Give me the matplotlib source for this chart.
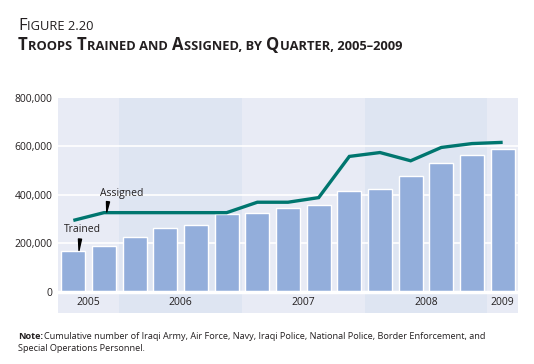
import matplotlib
matplotlib.use("Agg")
import matplotlib.pyplot as plt
import numpy as np

# quarterly data, Q3 2005 .. Q1 2009
quarters = ["2005Q3", "2005Q4",
            "2006Q1", "2006Q2", "2006Q3", "2006Q4",
            "2007Q1", "2007Q2", "2007Q3", "2007Q4",
            "2008Q1", "2008Q2", "2008Q3", "2008Q4",
            "2009Q1"]
trained = [170000, 189000, 226000, 262000, 275000, 321000, 327000, 345000,
           359000, 416000, 425000, 479000, 532000, 566000, 588000]
assigned = [295000, 327000, 327000, 327000, 327000, 327000, 370000, 370000,
            389000, 559000, 575000, 541000, 596000, 612000, 617000]
years = ["2005", "2006", "2007", "2008", "2009"]
yticks = [0, 200000, 400000, 600000, 800000]

FONT = "Open Sans"
TXT = "#231f20"
plt.rcParams['font.family'] = [FONT, 'DejaVu Sans']

fig = plt.figure(figsize=(5.34, 3.64), dpi=100)
fig.patch.set_facecolor("white")

ax = fig.add_axes([58 / 534, (364 - 313) / 364, 460 / 534, 215 / 364])
ax.set_facecolor("#e8ebf5")

x = np.arange(len(quarters))
# year of each quarter -> shaded bands
qyear = [q[:4] for q in quarters]
for i, yr in enumerate(years):
    idx = [k for k, q in enumerate(qyear) if q == yr]
    lo, hi = idx[0] - 0.5, idx[-1] + 0.5
    if i % 2 == 1:
        ax.axvspan(lo, hi, color="#dee5f2", lw=0, zorder=0)
    ax.text((lo + hi) / 2, -43000, yr, ha="center", va="center",
            fontsize=7.5, color=TXT)

for t in yticks[1:-1]:
    ax.axhline(t, color="white", lw=1.2, zorder=1)
ax.axhline(0, color="white", lw=2.5, zorder=3)

ax.bar(x, trained, width=0.78, color="#93aedb", edgecolor="white",
       linewidth=1.0, zorder=2)
ax.plot(x, assigned, color="#00766f", lw=2.4, zorder=4,
        solid_capstyle="butt", solid_joinstyle="miter")

# labels with small wedge pointers
wedge = dict(arrowstyle="wedge,tail_width=0.22", color="black",
             shrinkA=0, shrinkB=0)
ax.text(x[1] + 0.57, 396000, "Assigned", ha="center", va="baseline",
        fontsize=7.5, color=TXT, zorder=5)
ax.annotate("", xy=(x[1] + 0.09, assigned[1] + 3000),
            xytext=(x[1] + 0.13, 372000), arrowprops=wedge, zorder=5)
ax.text(x[0] + 0.30, 247000, "Trained", ha="center", va="baseline",
        fontsize=7.5, color=TXT, zorder=5)
ax.annotate("", xy=(x[0] + 0.185, trained[0] + 1000),
            xytext=(x[0] + 0.217, 218000), arrowprops=wedge, zorder=5)

ax.set_xlim(-0.5, len(quarters) - 0.5)
ax.set_ylim(-87000, 800000)
ax.set_xticks([])
ax.set_yticks(yticks)
ax.set_yticklabels(["{:,}".format(v) for v in yticks], fontsize=7.5, color=TXT)
ax.tick_params(axis="y", length=0, pad=4)
for s in ax.spines.values():
    s.set_visible(False)


def small_caps(fig, x0, y0, text, big, small, weight="normal", gap=0.6):
    """ fake small caps: place runs one after another (pixel coords) """
    r = fig.canvas.get_renderer()
    runs = []
    for ch in text:
        kind = "b" if ch.isupper() else "s"
        if runs and runs[-1][0] == kind:
            runs[-1][1] += ch.upper()
        else:
            runs.append([kind, ch.upper()])
    xp = x0
    for kind, s in runs:
        t = fig.text(xp / 534, 1 - y0 / 364, s, fontsize=big if kind == "b" else small,
                     fontweight=weight, color=TXT, ha="left", va="baseline")
        bb = t.get_window_extent(renderer=r)
        xp += bb.width + gap


small_caps(fig, 18, 29.5, "Figure 2.20", 12.0, 9.3)
small_caps(fig, 18, 50, "Troops Trained and Assigned, by Quarter, 2005\u20132009",
           12.0, 9.3, weight="bold")

fig.text(18 / 534, 1 - 339 / 364, "Note:", fontsize=6.6, fontweight="bold",
         color=TXT, ha="left", va="baseline")
fig.text(44 / 534, 1 - 339 / 364,
         "Cumulative number of Iraqi Army, Air Force, Navy, Iraqi Police, National Police, Border Enforcement, and",
         fontsize=6.6, color=TXT, ha="left", va="baseline")
fig.text(18 / 534, 1 - 351 / 364, "Special Operations Personnel.", fontsize=6.6,
         color=TXT, ha="left", va="baseline")

fig.savefig("out.png", dpi=100)
